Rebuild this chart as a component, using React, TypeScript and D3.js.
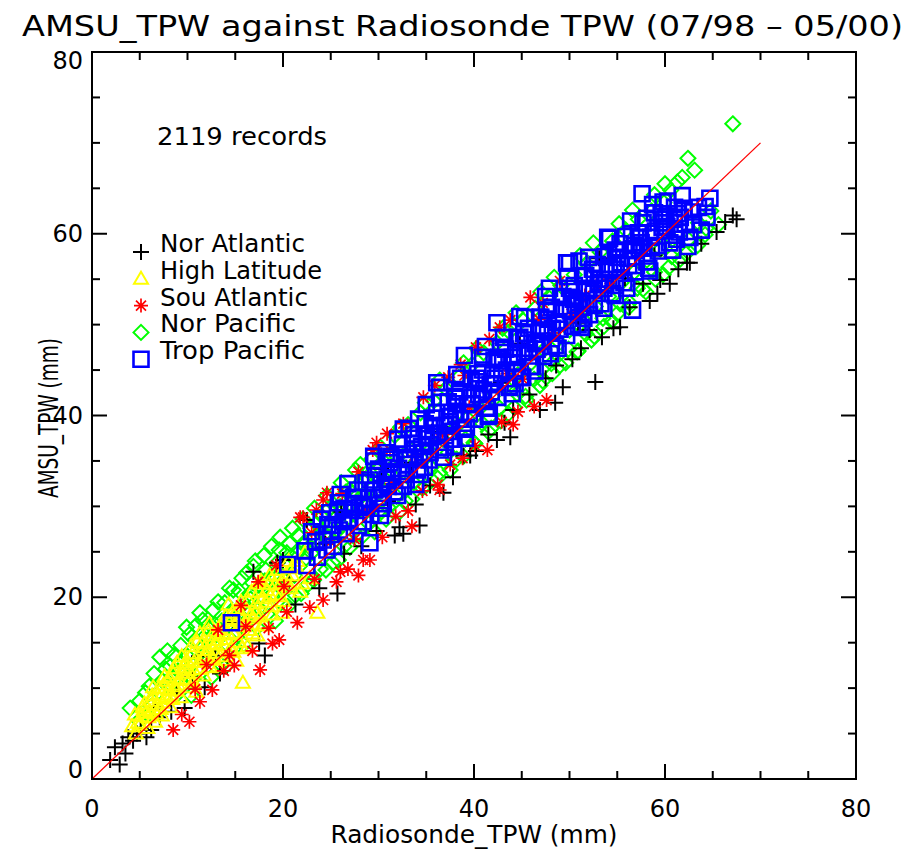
import React from "react";
import * as d3 from "d3";

// radiosonde TPW (x) vs AMSU TPW (y), mm
const norAtlantic: [number, number][] = [
  [1.9, 2.1], [2.4, 3.5], [3.2, 3.9], [3.8, 4.6], [4.7, 5.0], [5.7, 4.6], [3.5, 2.8], [4.3, 4.2], [5.1, 5.6], [6.2, 5.4],
  [2.9, 1.6], [7.1, 6.8], [8.3, 7.4], [9.7, 7.8], [6.6, 7.9], [8.9, 9.6], [10.5, 11.2], [11.8, 10.1], [12.9, 13.6], [13.4, 11.6],
  [16.9, 22.8], [18.1, 13.6], [19.4, 23.8], [20.0, 24.1], [22.5, 28.5], [25.7, 20.4], [17.5, 14.9], [21.3, 19.2], [23.8, 21.0], [26.4, 24.8],
  [28.2, 25.6], [29.8, 27.3], [32.6, 27.0], [32.2, 27.7], [31.0, 30.6], [33.9, 30.2], [35.4, 32.3], [36.8, 31.5], [37.8, 33.2], [38.9, 35.6],
  [40.2, 36.1], [41.5, 37.9], [42.4, 37.3], [44.1, 40.6], [43.2, 39.2], [45.8, 42.3], [46.9, 40.6], [47.5, 44.1], [49.3, 43.1], [48.6, 45.5],
  [50.3, 46.2], [51.2, 47.4], [52.1, 49.4], [53.4, 48.6], [54.6, 49.6], [55.3, 49.7], [56.3, 51.9], [57.7, 54.5], [58.4, 52.6], [59.2, 53.4],
  [59.5, 54.9], [60.5, 54.5], [61.4, 56.1], [62.3, 56.8], [62.6, 56.8], [63.8, 58.9], [65.4, 60.2], [66.3, 61.3], [67.1, 62.0], [67.5, 61.6],
  [26.1, 29.4], [30.3, 34.1], [35.6, 38.2], [39.7, 43.1], [44.8, 47.9], [53.1, 57.3], [14.8, 17.2], [11.2, 13.5], [14.2, 13.6],
  [20.6, 21.8], [24.4, 25.9], [27.9, 29.5], [33.5, 34.8], [37.2, 38.0], [42.8, 43.6], [46.5, 47.3], [50.9, 50.2], [55.8, 55.1], [58.9, 57.6],
  [52.7, 43.7], [48.5, 41.4], [43.8, 37.6], [39.6, 35.6], [34.3, 27.9], [31.7, 26.8],
];

const highLatitude: [number, number][] = [
  [4.2, 5.8], [4.5, 7.1], [4.8, 6.2], [5.2, 6.9], [5.5, 8.3], [5.8, 5.6], [5.4, 7.6], [6.1, 7.4], [6.3, 9.2], [6.6, 6.3],
  [6.8, 8.1], [6.4, 10.1], [7.1, 8.9], [7.3, 7.0], [7.5, 10.4], [7.8, 9.1], [7.6, 11.3], [8.0, 9.8], [8.2, 7.9], [8.5, 11.6],
  [8.7, 10.2], [8.4, 8.8], [8.9, 12.8], [9.1, 10.9], [9.3, 9.0], [9.6, 12.3], [9.8, 11.0], [9.4, 13.5], [10.1, 12.0], [10.3, 10.1],
  [10.5, 13.8], [10.8, 11.7], [10.4, 14.6], [10.9, 9.6], [11.2, 12.9], [11.5, 14.9], [11.7, 11.4], [11.9, 13.6], [11.3, 16.0], [12.1, 14.2],
  [12.4, 12.3], [12.6, 15.8], [12.9, 13.9], [12.3, 17.1], [13.1, 15.3], [13.4, 13.5], [13.6, 17.2], [13.9, 14.7], [13.3, 16.4], [14.2, 16.1],
  [14.5, 14.3], [14.7, 18.3], [14.9, 15.9], [14.3, 19.2], [15.2, 17.4], [15.4, 15.1], [15.8, 10.6], [15.6, 19.5], [15.9, 16.8], [15.1, 13.0],
  [16.2, 18.6], [16.5, 16.4], [16.7, 20.6], [16.9, 17.7], [16.3, 14.6], [17.2, 19.3], [17.4, 21.5], [17.6, 17.9], [17.9, 19.9], [17.3, 15.8],
  [18.3, 20.8], [18.6, 22.4], [18.8, 19.0], [18.1, 17.1], [19.2, 21.4], [19.4, 23.0], [19.7, 20.1], [19.9, 18.3], [20.3, 22.5], [20.6, 24.0],
  [20.8, 21.0], [21.4, 23.3], [21.8, 20.6], [22.3, 24.9], [23.6, 18.3], [22.8, 22.1],
  [4.6, 5.0], [5.0, 6.0], [5.3, 7.9], [5.9, 6.8], [6.2, 8.6], [6.7, 7.2], [7.0, 10.0], [7.4, 8.4], [7.9, 10.8], [8.3, 9.3],
  [8.6, 12.2], [9.0, 10.4], [9.5, 11.7], [9.9, 13.1], [10.2, 11.0], [10.7, 12.9], [11.0, 15.1], [11.4, 12.1], [11.8, 14.5], [12.2, 16.3],
  [12.7, 13.2], [13.0, 14.8], [13.5, 16.9], [13.8, 13.1], [14.1, 15.4], [14.6, 17.6], [15.0, 16.1], [15.3, 18.7], [15.7, 14.4], [16.0, 17.2],
  [16.4, 19.6], [16.8, 16.0], [17.1, 18.3], [17.5, 20.6], [17.8, 16.9], [18.2, 19.5], [18.5, 21.5], [18.9, 18.1], [19.3, 20.3], [19.6, 22.4],
  [20.0, 19.6], [20.4, 21.3], [21.0, 22.4], [21.5, 24.0], [22.0, 21.5],
  [5.7, 7.3], [6.9, 9.3], [7.2, 7.7], [8.1, 11.1], [8.8, 9.7], [9.7, 12.6], [10.6, 10.7], [11.6, 13.2], [12.5, 14.9], [13.2, 12.4],
  [14.0, 17.9], [14.8, 14.0], [15.5, 17.9], [16.6, 18.0], [17.7, 21.8], [18.7, 20.1], [19.8, 21.6], [20.9, 23.2],
];

const souAtlantic: [number, number][] = [
  [8.5, 5.4], [11.3, 8.5], [9.4, 7.1], [10.2, 6.3], [12.6, 9.8], [13.8, 11.9], [14.9, 12.5], [17.6, 12.0], [16.8, 14.1], [18.5, 16.6],
  [19.6, 15.3], [21.5, 17.2], [20.4, 18.4], [22.8, 18.9], [24.2, 19.7], [23.3, 22.0], [25.6, 21.7], [26.8, 23.1], [28.4, 24.1], [29.1, 24.1],
  [27.5, 26.4], [30.4, 26.6], [31.8, 28.9], [33.1, 29.5], [34.6, 31.7], [36.2, 32.4], [37.5, 34.6], [38.8, 35.3], [40.1, 36.7], [41.4, 36.2],
  [42.9, 39.3], [44.6, 40.4], [46.3, 41.0], [47.6, 41.7], [45.1, 44.0], [27.9, 22.4], [36.4, 31.8],
  [13.2, 16.4], [15.6, 19.1], [17.4, 21.7], [19.3, 23.5], [21.8, 28.8], [22.1, 28.8], [23.5, 29.6], [24.6, 31.5], [24.2, 30.7], [26.2, 31.4],
  [27.9, 33.8], [29.4, 36.2], [29.8, 37.0], [30.9, 38.0], [32.6, 39.1], [34.7, 42.0], [35.9, 43.3], [37.3, 44.2], [38.6, 45.6], [40.2, 47.5],
  [41.6, 48.4], [42.7, 49.7], [43.8, 50.5], [45.9, 53.0], [47.2, 52.4], [49.0, 54.8],
  [12.0, 12.6], [16.1, 16.8], [20.1, 21.2], [25.0, 26.1], [28.7, 29.6], [31.4, 32.5], [33.8, 35.6], [36.7, 37.9], [39.5, 40.9], [43.5, 44.6],
  [48.3, 49.1], [51.6, 53.2], [54.2, 55.0],
  [10.8, 9.9], [14.4, 13.6], [18.9, 14.9], [23.0, 27.1], [26.0, 22.8], [31.2, 36.2], [33.5, 27.8], [39.0, 44.4], [44.1, 39.0], [46.8, 50.6],
  [50.2, 51.2], [52.8, 54.3],
];

const norPacific: [number, number][] = [
  [4.0, 7.8], [4.9, 6.4], [5.6, 9.5], [6.2, 8.0], [7.1, 13.4], [7.4, 10.8], [6.9, 7.3], [8.2, 12.4], [8.8, 9.2], [9.3, 14.7],
  [9.9, 16.7], [9.6, 11.5], [10.4, 9.2], [10.8, 15.3], [11.1, 12.2], [11.6, 17.5], [12.2, 13.1], [12.7, 18.6], [13.0, 15.9], [13.5, 12.6],
  [13.9, 19.4], [14.3, 16.8], [14.8, 20.8], [15.0, 14.5], [15.5, 18.9], [15.7, 22.1], [16.1, 17.3], [16.6, 19.8], [16.9, 23.4], [17.2, 18.1],
  [17.7, 21.2], [18.0, 24.6], [18.4, 19.2], [18.9, 22.3], [19.2, 17.4], [19.6, 25.2], [19.9, 20.9], [20.3, 23.6], [20.7, 25.9], [20.5, 19.0],
  [21.2, 22.4], [21.6, 26.8], [21.9, 20.4], [22.4, 24.3], [22.9, 27.6], [23.2, 21.9], [23.7, 25.7], [24.1, 28.9], [24.5, 23.0], [24.9, 26.6],
  [25.3, 30.2], [25.8, 24.1], [26.2, 27.9], [26.6, 31.6], [27.0, 25.5], [27.5, 29.1], [27.9, 32.4], [28.3, 26.7], [28.8, 30.3], [29.2, 33.6],
  [29.6, 27.2], [30.0, 31.4], [30.5, 35.0], [30.8, 28.6], [31.3, 32.6], [31.7, 37.8], [32.2, 29.4], [32.6, 33.8], [33.1, 39.0], [33.5, 30.8],
  [34.0, 35.0], [34.4, 40.3], [34.9, 32.2], [35.3, 36.1], [35.8, 41.6], [36.2, 33.1], [36.7, 37.4], [37.1, 42.9], [37.5, 34.0], [38.0, 38.6],
  [38.4, 44.2], [38.9, 35.5], [39.3, 39.7], [39.8, 45.6], [40.1, 36.9], [40.6, 40.8], [41.0, 46.9], [41.5, 38.2], [41.9, 42.1], [42.4, 48.0],
  [42.8, 39.4], [43.3, 43.2], [43.7, 49.2], [44.2, 40.9], [44.6, 44.5], [45.1, 50.5], [45.5, 41.7], [46.0, 45.8], [46.4, 51.8], [46.9, 43.3],
  [47.3, 47.2], [47.8, 53.0], [48.2, 44.6], [48.7, 48.3], [49.1, 54.3], [49.6, 45.8], [50.0, 49.4], [50.5, 55.5], [50.9, 47.1], [51.4, 50.6],
  [51.8, 56.7], [52.3, 48.3], [52.7, 52.0], [53.2, 58.0], [53.6, 49.8], [54.1, 53.1], [54.5, 59.2], [55.0, 51.2], [55.4, 54.6], [55.9, 60.4],
  [56.3, 52.4], [56.8, 55.8], [57.2, 61.6], [57.7, 53.9], [58.1, 57.1], [58.6, 62.5], [59.0, 55.0], [59.5, 58.3], [59.9, 63.4], [60.4, 56.3],
  [60.8, 59.4], [61.3, 65.7], [61.8, 66.2], [62.2, 57.8], [62.4, 68.3], [63.1, 67.0], [63.5, 61.2], [64.2, 59.9], [64.8, 62.5], [65.6, 61.0],
  [67.1, 72.1],
  [5.0, 8.6], [5.9, 7.1], [6.5, 11.6], [7.0, 9.6], [7.7, 12.1], [8.1, 10.5], [8.6, 13.6], [9.0, 11.9], [9.5, 10.3], [10.0, 13.5],
  [10.6, 11.0], [10.9, 16.9], [11.4, 14.4], [11.9, 15.8], [12.5, 11.2], [12.9, 17.0], [13.3, 14.0], [13.8, 16.0], [14.1, 12.5], [14.6, 18.2],
  [15.2, 16.3], [15.4, 20.7], [15.9, 14.8], [16.4, 18.7], [16.8, 21.6], [17.3, 16.7], [17.6, 19.9], [18.2, 23.0], [18.6, 17.9], [19.0, 20.5],
  [19.4, 23.8], [19.8, 19.4], [20.2, 21.9], [20.9, 24.5], [21.3, 20.2], [21.7, 23.4], [22.2, 26.0], [22.6, 21.4], [23.0, 24.9], [23.5, 28.1],
  [23.9, 23.1], [24.3, 26.9], [24.8, 29.7], [25.2, 23.8], [25.6, 27.2], [26.0, 30.0], [26.4, 25.6], [26.9, 28.8], [27.3, 31.5], [27.7, 26.9],
  [28.1, 29.6], [28.6, 32.9], [29.0, 28.1], [29.4, 31.0], [29.9, 34.0], [30.3, 29.4],
  [31.0, 29.9], [31.9, 31.1], [32.8, 30.6], [33.7, 32.6], [34.6, 32.0], [35.5, 34.3], [36.4, 33.7], [37.3, 35.9], [38.2, 35.2], [39.1, 37.4],
  [40.0, 37.0], [40.9, 39.1], [41.8, 38.6], [42.7, 40.8], [43.6, 40.2], [44.5, 42.4], [45.4, 42.1], [46.3, 44.0], [47.2, 43.8], [48.1, 45.7],
  [49.0, 45.5], [49.9, 47.3], [50.8, 47.0], [51.7, 49.0], [52.6, 48.7], [53.5, 50.7], [54.4, 50.4], [55.3, 52.3], [56.2, 51.9], [57.1, 54.0],
  [58.0, 53.6], [58.9, 55.8], [59.8, 55.5], [60.7, 57.5], [61.6, 57.2], [62.5, 59.3], [63.4, 58.7], [64.3, 60.6],
  [28.1, 34.6], [30.2, 36.5], [32.3, 38.7], [34.9, 41.4], [36.4, 43.9], [38.9, 45.8], [40.3, 47.4], [43.0, 49.6], [44.4, 51.3], [47.0, 53.6],
  [48.4, 55.2], [51.1, 57.6], [52.5, 59.0], [55.2, 61.1], [56.6, 62.6], [58.9, 64.3], [60.6, 64.8], [60.0, 65.5],
  [6.0, 10.2], [7.9, 14.1], [8.4, 11.3], [9.2, 12.9], [10.2, 15.9], [10.5, 12.6], [11.3, 18.3], [11.7, 13.7], [12.0, 16.8], [12.8, 14.7],
  [13.2, 19.5], [13.6, 17.4], [14.4, 21.0], [14.9, 17.6], [15.6, 16.9], [16.2, 22.7], [16.5, 20.4], [17.1, 24.0], [17.5, 18.8], [18.1, 21.8],
  [18.8, 25.6], [19.3, 22.1], [19.7, 26.6], [20.4, 24.9], [21.0, 27.6], [21.5, 24.8], [22.1, 28.6], [22.8, 25.6], [23.3, 29.8], [24.0, 27.4],
  [24.6, 31.2], [25.4, 28.6], [26.1, 32.6], [26.8, 29.9], [27.6, 34.0], [28.4, 31.3], [29.3, 35.2], [30.7, 33.0], [32.0, 35.4], [33.3, 36.3],
];

const tropPacific: [number, number][] = [
  [57.6, 64.4], [61.8, 64.2], [64.7, 63.9], [59.8, 63.5], [62.9, 62.4], [62.6, 59.6], [56.6, 51.6], [50.0, 56.8], [42.4, 46.3], [36.4, 43.1],
  [32.6, 38.5], [25.7, 29.4], [22.5, 23.5], [24.9, 29.3], [29.1, 26.0], [35.4, 35.9], [49.7, 56.8], [42.4, 50.2], [39.0, 46.6], [36.1, 43.6],
  [45.1, 44.2],
  [22.3, 25.1], [23.0, 27.2], [23.6, 24.4], [24.2, 26.3], [24.7, 28.0], [25.3, 25.6], [25.9, 27.4], [26.4, 29.8], [26.0, 31.3],
  [27.0, 28.5], [27.4, 31.0], [27.9, 27.9], [28.3, 30.2], [28.7, 32.6], [29.2, 29.1], [29.6, 31.8], [30.0, 34.1], [30.5, 30.3], [30.9, 33.0],
  [31.3, 35.5], [31.7, 31.6], [32.1, 34.2], [32.5, 36.8], [32.9, 32.9], [33.3, 35.3], [33.7, 37.9], [34.1, 34.0], [34.5, 36.6], [34.9, 39.1],
  [35.3, 35.1], [35.7, 37.7], [36.1, 40.3], [36.5, 36.2], [36.9, 38.9], [37.3, 41.5], [37.7, 37.4], [38.1, 40.1], [38.5, 42.6], [38.9, 38.5],
  [39.3, 41.2], [39.7, 43.9], [40.1, 39.6], [40.5, 42.3], [40.9, 45.0], [41.3, 40.8], [41.7, 43.4], [42.1, 46.1], [42.5, 42.0], [42.9, 44.6],
  [43.3, 47.3], [43.7, 43.1], [44.1, 45.8], [44.5, 48.5], [44.9, 44.2], [45.3, 46.9], [45.7, 49.6], [46.1, 45.4], [46.5, 48.0], [46.9, 50.8],
  [47.3, 46.5], [47.7, 49.2], [48.1, 51.9], [48.5, 47.7], [48.9, 50.3], [49.3, 53.1], [49.7, 48.8], [50.1, 51.5], [50.5, 54.3], [50.9, 50.0],
  [51.3, 52.6], [51.7, 55.4], [52.1, 51.1], [52.5, 53.8], [52.9, 56.6], [53.3, 52.3], [53.7, 55.0], [54.1, 57.7], [54.5, 53.4], [54.9, 56.1],
  [55.3, 58.9], [55.7, 54.6], [56.1, 57.3], [56.5, 60.0], [56.9, 55.8], [57.3, 58.4], [57.7, 61.2], [58.1, 56.9], [58.5, 59.6], [58.9, 62.3],
  [59.3, 58.1], [59.7, 60.7], [60.1, 61.9], [60.5, 59.0], [61.0, 61.6], [61.5, 60.2], [62.0, 62.8], [62.4, 58.6],
  [30.2, 29.0], [33.9, 32.4], [37.9, 36.6], [41.6, 40.1], [44.3, 43.5], [48.0, 46.8], [51.5, 50.7], [54.8, 53.2], [58.3, 56.2], [61.2, 59.4],
  [28.0, 29.9], [31.0, 32.2], [34.3, 35.4], [37.5, 39.3], [40.8, 41.9], [44.0, 46.4], [47.2, 48.2], [50.4, 52.8], [53.6, 54.0], [56.8, 58.7],
  [60.0, 60.3], [35.0, 41.2], [38.2, 44.5], [41.2, 47.6], [44.8, 50.9], [47.9, 54.0], [51.0, 57.0], [54.0, 59.6], [29.5, 35.5], [26.8, 32.5],
  [23.4, 26.1], [24.0, 28.6], [24.6, 25.2], [25.2, 27.9], [25.8, 30.4], [26.6, 27.0], [27.2, 29.6], [27.8, 31.8], [28.4, 28.3], [29.0, 30.9],
  [29.7, 33.4], [30.3, 32.0], [30.8, 35.9], [31.5, 33.7], [32.0, 31.2], [32.7, 35.4], [33.2, 38.6], [33.8, 36.3], [34.4, 33.5], [35.0, 37.8],
  [35.6, 39.7], [36.3, 38.0], [36.8, 35.4], [37.4, 39.9], [38.0, 42.1], [38.6, 39.6], [39.1, 37.5], [39.8, 42.0], [40.4, 44.6], [41.0, 42.8],
  [41.5, 39.9], [42.2, 44.1], [42.8, 47.5], [43.4, 45.0], [44.0, 42.4], [44.6, 46.7], [45.2, 49.0], [45.8, 47.4], [46.4, 44.9], [47.0, 49.4],
  [47.6, 51.6], [48.2, 49.6], [48.8, 47.4], [49.4, 51.7], [50.0, 54.0], [50.6, 52.1], [51.2, 49.7], [51.8, 54.0], [52.4, 56.1], [53.0, 54.4],
  [53.6, 51.8], [54.2, 56.3], [54.8, 58.2], [55.4, 56.6], [56.0, 54.0], [56.6, 58.2], [57.2, 60.1], [57.8, 58.4], [58.4, 55.9], [59.0, 60.3],
  [59.6, 62.2], [60.2, 60.8], [60.8, 58.2], [61.4, 62.2], [62.1, 61.1], [63.0, 61.0], [63.5, 62.9], [64.4, 61.8],
  [30.0, 31.0], [31.2, 34.8], [32.4, 33.5], [33.6, 36.9], [34.7, 35.9], [35.9, 38.9], [37.0, 37.8], [38.3, 41.3], [39.5, 40.2], [40.6, 43.7],
  [41.8, 42.6], [43.0, 46.0], [44.2, 44.9], [45.4, 48.3], [46.6, 47.3], [47.8, 50.6], [49.0, 49.5], [50.2, 53.0], [51.4, 51.9], [52.6, 55.1],
  [53.8, 54.5], [55.0, 57.4], [56.2, 56.5], [57.4, 59.6], [58.6, 58.5], [59.8, 61.6], [61.0, 60.5], [27.5, 30.3], [26.3, 28.3], [25.0, 26.9],
  [28.5, 30.0], [29.1, 32.9], [29.6, 35.0], [30.3, 29.8], [30.9, 32.4], [31.4, 35.2], [32.0, 37.4], [32.6, 32.2], [33.1, 34.6], [33.7, 37.5],
  [34.2, 39.6], [34.8, 34.3], [35.3, 36.8], [35.9, 39.7], [36.4, 42.0], [37.0, 36.5], [37.5, 39.0], [38.1, 41.9], [38.6, 44.1], [39.2, 38.7],
  [39.8, 41.3], [40.3, 44.1], [40.9, 46.4], [41.4, 40.9], [42.0, 43.5], [42.6, 46.4], [43.1, 48.6], [43.7, 43.2], [44.2, 45.7], [44.8, 48.6],
  [45.3, 50.8], [45.9, 45.4], [46.4, 47.9], [47.0, 50.8], [47.5, 53.1], [48.1, 47.6], [48.7, 50.2], [49.2, 53.0], [49.8, 55.3], [50.3, 49.8],
  [50.9, 52.4], [51.5, 55.3], [52.0, 57.4], [52.6, 52.1], [53.1, 54.6], [53.7, 57.5], [54.2, 59.5], [54.8, 54.3], [55.3, 56.8], [55.9, 59.7],
  [56.4, 61.4], [57.0, 56.5], [57.5, 59.0], [58.1, 61.7], [58.7, 63.2], [59.2, 58.7], [59.8, 61.2], [60.3, 63.6], [61.0, 62.9], [61.6, 61.8],
  [63.8, 60.4], [64.2, 63.0], [14.6, 17.2], [20.5, 23.6],
];

const seriesNames = ["Nor Atlantic", "High Latitude", "Sou Atlantic", "Nor Pacific", "Trop Pacific"];
const seriesData = [norAtlantic, highLatitude, souAtlantic, norPacific, tropPacific];
const seriesColors = ["#000000", "#ffff00", "#ff0000", "#00ff00", "#0000ff"];
const legendWidths = [145, 162, 148, 136, 145];
const drawOrder = [3, 0, 1, 2, 4]; // green at the bottom, blue on top
const fitLine: [number, number][] = [[0, 0], [70, 70]];

const FONT = "DejaVu Sans, Liberation Sans, sans-serif";

// one glyph per series, like IDL psym 1,5,2,4,6
const symbolPath = (kind: number, cx: number, cy: number) => {
  if (kind === 0) return `M${cx - 8},${cy}H${cx + 8}M${cx},${cy - 8}V${cy + 8}`;
  if (kind === 1) return `M${cx},${cy - 7}L${cx + 7},${cy + 5}L${cx - 7},${cy + 5}Z`;
  if (kind === 2) {
    const d = 5;
    return `M${cx - 7},${cy}H${cx + 7}M${cx},${cy - 7}V${cy + 7}M${cx - d},${cy - d}L${cx + d},${cy + d}M${cx - d},${cy + d}L${cx + d},${cy - d}`;
  }
  if (kind === 3) return `M${cx},${cy - 7.5}L${cx + 7.5},${cy}L${cx},${cy + 7.5}L${cx - 7.5},${cy}Z`;
  return `M${cx - 7.5},${cy - 7.5}H${cx + 7.5}V${cy + 7.5}H${cx - 7.5}Z`;
};
const strokeW = [2, 2, 1.7, 2, 2.6];

const App = () => {
  const width = 902;
  const height = 852;
  const plot = { left: 92, right: 856, top: 52, bottom: 779 };

  const x = d3.scaleLinear().domain([0, 80]).range([plot.left, plot.right]);
  const y = d3.scaleLinear().domain([0, 80]).range([plot.bottom, plot.top]);

  const major = x.ticks(4);
  const minor = x.ticks(16).filter((t) => !major.includes(t));
  const line = d3.line<[number, number]>().x((d) => x(d[0])).y((d) => y(d[1]));

  const tickLines = [];
  major.forEach((t) => {
    tickLines.push({ t, len: 15 });
  });
  minor.forEach((t) => {
    tickLines.push({ t, len: 8 });
  });

  return (
    <svg width={width} height={height} style={{ position: "absolute", left: 0, top: 0, background: "#fff" }} fontFamily={FONT}>
      <rect width={width} height={height} fill="#fff" />
      <text x={22} y={36} fontSize={28} textLength={881} lengthAdjust="spacingAndGlyphs">
        AMSU_TPW against Radiosonde TPW (07/98 – 05/00)
      </text>

      {drawOrder.map((k) => (
        <g key={seriesNames[k]} stroke={seriesColors[k]} strokeWidth={strokeW[k]} fill="none">
          {seriesData[k].map((d, i) => (
            <path key={i} d={symbolPath(k, x(d[0]), y(d[1]))} />
          ))}
        </g>
      ))}

      <path d={line(fitLine) || ""} stroke="#ff0000" strokeWidth={1.3} fill="none" />

      {/* frame + inward ticks on all four sides */}
      <rect x={plot.left} y={plot.top} width={plot.right - plot.left} height={plot.bottom - plot.top} fill="none" stroke="#000" strokeWidth={2} />
      <g stroke="#000" strokeWidth={2}>
        {tickLines.map(({ t, len }) => (
          <g key={t}>
            <line x1={x(t)} x2={x(t)} y1={plot.bottom} y2={plot.bottom - len} />
            <line x1={x(t)} x2={x(t)} y1={plot.top} y2={plot.top + len} />
            <line x1={plot.left} x2={plot.left + len} y1={y(t)} y2={y(t)} />
            <line x1={plot.right} x2={plot.right - len} y1={y(t)} y2={y(t)} />
          </g>
        ))}
      </g>

      <g fontSize={24} fill="#000">
        {major.map((t) => (
          <text key={`x${t}`} x={x(t)} y={817} textAnchor="middle">{t}</text>
        ))}
        {major.map((t) => (
          <text
            key={`y${t}`}
            x={83}
            y={Math.min(Math.max(y(t), plot.top + 9), plot.bottom - 9)}
            textAnchor="end"
            dominantBaseline="central"
          >
            {t}
          </text>
        ))}
      </g>

      <text x={(plot.left + plot.right) / 2} y={843} fontSize={24} textAnchor="middle" textLength={287} lengthAdjust="spacingAndGlyphs">
        Radiosonde_TPW (mm)
      </text>
      <text
        transform={`translate(58,418) rotate(-90)`}
        fontSize={26}
        textAnchor="middle"
        textLength={160}
        lengthAdjust="spacingAndGlyphs"
      >
        AMSU_TPW (mm)
      </text>

      <text x={157} y={145} fontSize={24} textLength={170} lengthAdjust="spacingAndGlyphs">2119 records</text>

      {seriesNames.map((name, k) => {
        const by = 252 + k * 26.8;
        return (
          <g key={name}>
            <path d={symbolPath(k, 141, by)} stroke={seriesColors[k]} strokeWidth={strokeW[k]} fill="none" />
            <text x={160} y={by} fontSize={24} textLength={legendWidths[k]} lengthAdjust="spacingAndGlyphs">{name}</text>
          </g>
        );
      })}
    </svg>
  );
};

export default App;
